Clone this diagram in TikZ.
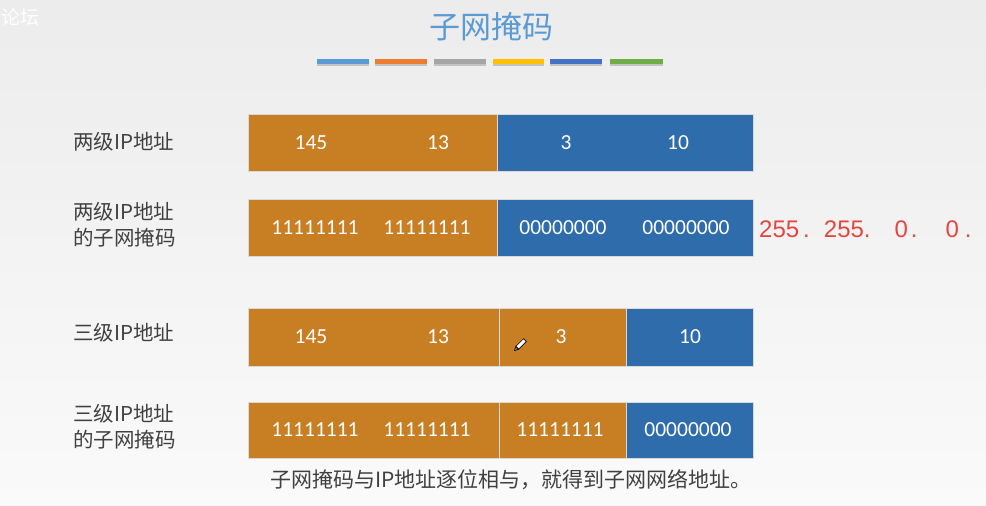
\documentclass[tikz,border=0pt]{standalone}
\usepackage{fontspec}
\setmainfont{Carlito}
\newfontfamily\cjk{Noto Sans CJK SC}
\newfontfamily\numf{Carlito}
\newfontfamily\hand{Liberation Sans}
\definecolor{cellorange}{RGB}{200,126,34}
\definecolor{cellblue}{RGB}{46,108,171}
\definecolor{titleblue}{RGB}{91,155,213}
\definecolor{labelgray}{RGB}{64,64,64}
\definecolor{barA}{RGB}{91,155,213}
\definecolor{barB}{RGB}{237,125,49}
\definecolor{barC}{RGB}{165,165,165}
\definecolor{barD}{RGB}{255,192,0}
\definecolor{barE}{RGB}{68,114,196}
\definecolor{barF}{RGB}{112,173,71}
\definecolor{inkred}{RGB}{228,70,62}
\begin{document}
\begin{tikzpicture}[x=1pt,y=-1pt,
  cellbox/.style={rectangle, draw=white!85!black, line width=0.6pt, inner sep=0pt, anchor=north west},
  ocell/.style={cellbox, fill=cellorange},
  bcell/.style={cellbox, fill=cellblue},
  num/.style={font=\numf\fontsize{21.5}{24}\selectfont, text=white, inner sep=0pt, anchor=center},
  lbl/.style={font=\cjk\fontsize{20.5}{26}\selectfont, text=labelgray, inner sep=0pt, anchor=west, align=left},
]
\useasboundingbox (0,0) rectangle (986,506);
\shade[top color={rgb,255:red,236;green,236;blue,236}, bottom color={rgb,255:red,250;green,250;blue,250}] (0,0) rectangle (986,506);

% watermark
\node[font=\cjk\fontsize{19}{20}\selectfont, text=white, inner sep=0pt, anchor=west] (wm) at (1,17) {论坛};

% title
\node[font=\cjk\fontsize{31}{33}\selectfont, text=titleblue, inner sep=0pt] (title) at (491,27) {子网掩码};

% colour bars
\foreach \c/\xa/\xb [count=\i] in {barA/317/369, barB/375/427, barC/434/486, barD/493/544, barE/550/602, barF/610/663}{
  \fill[black, opacity=0.18] (\xa,61.5) rectangle (\xb,66);
  \node[rectangle, inner sep=0pt, anchor=north west, fill=\c, minimum width=\xb-\xa, minimum height=4.5pt] (bar\i) at (\xa,59) {};
}

% row 1: two-level IP address
\node[ocell, minimum width=249pt, minimum height=57pt] (r1o) at (248,114) {};
\node[bcell, minimum width=256pt, minimum height=57pt] (r1b) at (497,114) {};
\node[num] (r1t1) at (311,142.5) {145};
\node[num] (r1t2) at (438,142.5) {13};
\node[num] (r1t3) at (566,142.5) {3};
\node[num] (r1t4) at (678,142.5) {10};

% row 2: two-level mask
\node[ocell, minimum width=249pt, minimum height=57pt] (r2o) at (248,199) {};
\node[bcell, minimum width=256pt, minimum height=57pt] (r2b) at (497,199) {};
\node[num] (r2t1) at (315,228) {11111111};
\node[num] (r2t2) at (427,228) {11111111};
\node[num] (r2t3) at (563,228) {00000000};
\node[num] (r2t4) at (686,228) {00000000};

% row 3: three-level IP address
\node[ocell, minimum width=251pt, minimum height=58pt] (r3o) at (248,308) {};
\node[ocell, minimum width=127pt, minimum height=58pt] (r3m) at (499,308) {};
\node[bcell, minimum width=127pt, minimum height=58pt] (r3b) at (626,308) {};
\node[num] (r3t1) at (311,337) {145};
\node[num] (r3t2) at (438,337) {13};
\node[num] (r3t3) at (561,337) {3};
\node[num] (r3t4) at (690,337) {10};

% row 4: three-level mask
\node[ocell, minimum width=251pt, minimum height=56pt] (r4o) at (248,402) {};
\node[ocell, minimum width=127pt, minimum height=56pt] (r4m) at (499,402) {};
\node[bcell, minimum width=127pt, minimum height=56pt] (r4b) at (626,402) {};
\node[num] (r4t1) at (315,430) {11111111};
\node[num] (r4t2) at (427,430) {11111111};
\node[num] (r4t3) at (560,430) {11111111};
\node[num] (r4t4) at (688,430) {00000000};

% left labels
\node[lbl] (l1) at (73,142) {两级IP地址};
\node[lbl] (l2) at (73,225) {两级IP地址\\的子网掩码};
\node[lbl] (l3) at (73,333) {三级IP地址};
\node[lbl] (l4) at (73,427) {三级IP地址\\的子网掩码};

% bottom sentence
\node[font=\cjk\fontsize{21}{24}\selectfont, text=labelgray, inner sep=0pt] (note) at (511,480) {子网掩码与IP地址逐位相与，就得到子网网络地址。};

% handwritten mask
\node[font=\hand\fontsize{24}{26}\selectfont, text=inkred, inner sep=0pt, anchor=west] (hand) at (759,229) {255\hspace{4pt}.\hspace{14pt}255.\hspace{24pt}0\hspace{3pt}.\hspace{28pt}0\hspace{6pt}.};

% pencil cursor
\begin{scope}[shift={(520,345)}, rotate=-45]
\draw[line width=0.6pt, fill=white] (-2,-7) rectangle (2,4);
\draw[line width=0.6pt, fill=gray] (-2,4) -- (0,8) -- (2,4) -- cycle;
\end{scope}
\end{tikzpicture}
\end{document}
